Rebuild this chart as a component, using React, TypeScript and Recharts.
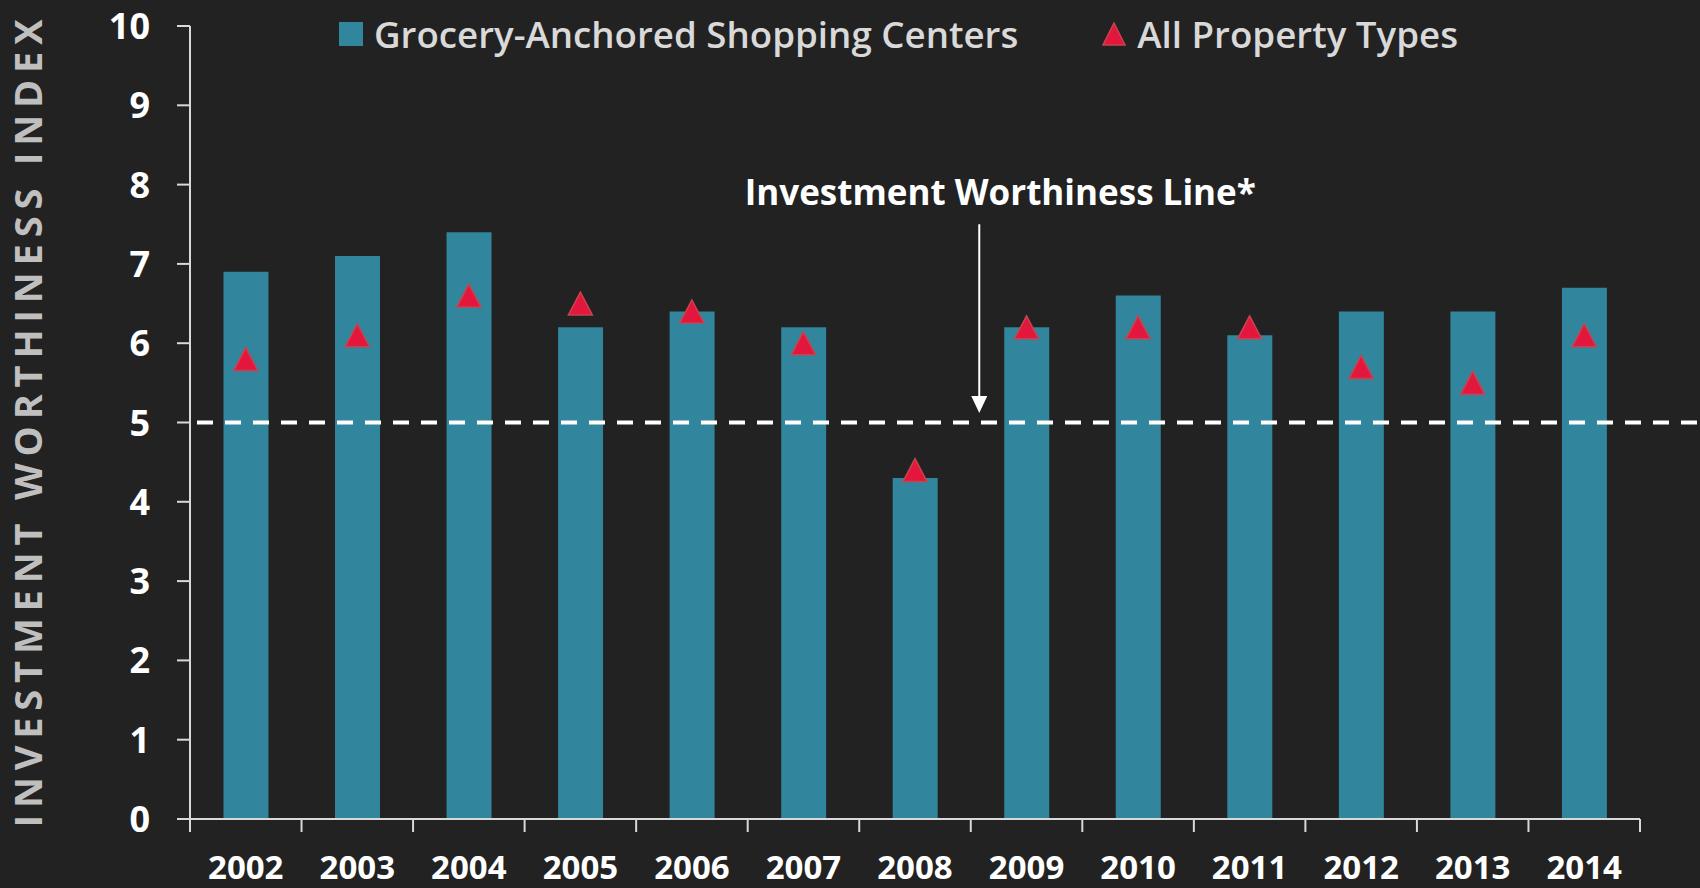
import React from 'react';
import {
  ComposedChart,
  Bar,
  Scatter,
  XAxis,
  YAxis,
  ReferenceLine,
  Legend,
} from 'recharts';

const years = ['2002', '2003', '2004', '2005', '2006', '2007', '2008', '2009', '2010', '2011', '2012', '2013', '2014'];
const groceryAnchored = [6.9, 7.1, 7.4, 6.2, 6.4, 6.2, 4.3, 6.2, 6.6, 6.1, 6.4, 6.4, 6.7];
const allPropertyTypes = [5.8, 6.1, 6.6, 6.5, 6.4, 6.0, 4.4, 6.2, 6.2, 6.2, 5.7, 5.5, 6.1];
const yTicks = [0, 1, 2, 3, 4, 5, 6, 7, 8, 9, 10];
const worthinessLevel = 5;
const seriesNames = ['Grocery-Anchored Shopping Centers', 'All Property Types'];
const annotationText = 'Investment Worthiness Line*';
const yAxisTitle = 'INVESTMENT WORTHINESS INDEX';

const data = years.map((year, i) => ({
  year,
  grocery: groceryAnchored[i],
  all: allPropertyTypes[i],
}));

const CHART_W = 1700;
const CHART_H = 888;
const MARGIN = { top: 26, right: 60, left: 130, bottom: 9 };
const Y_AXIS_W = 60;
const X_AXIS_H = 60;
const PLOT_LEFT = MARGIN.left + Y_AXIS_W;
const PLOT_W = CHART_W - PLOT_LEFT - MARGIN.right;
const BAND = PLOT_W / years.length;
const AXIS_Y = CHART_H - MARGIN.bottom - X_AXIS_H;

const BG = '#222222';
const BAR_COLOR = '#31859C';
const TRI_COLOR = '#E3173D';
const TRI_STROKE = '#C8434F';
const AXIS_COLOR = '#D9D9D9';
const FONT = '"Open Sans", "Noto Sans", sans-serif';

const XTick = (props: any) => {
  const { x, payload, index } = props;
  const left = x - BAND / 2;
  const right = x + BAND / 2;
  return (
    <g>
      <line x1={left} x2={left} y1={AXIS_Y} y2={AXIS_Y + 13} stroke={AXIS_COLOR} strokeWidth={2} />
      {index === years.length - 1 && (
        <line x1={right} x2={right} y1={AXIS_Y} y2={AXIS_Y + 13} stroke={AXIS_COLOR} strokeWidth={2} />
      )}
      <text
        x={x}
        y={AXIS_Y + 60}
        textAnchor="middle"
        fill="#FFFFFF"
        fontSize={33}
        fontWeight={700}
        fontFamily={FONT}
      >
        {payload.value}
      </text>
    </g>
  );
};

const YTick = (props: any) => {
  const { x, y, payload } = props;
  return (
    <text
      x={x}
      y={y}
      dy={13}
      textAnchor="end"
      fill="#FFFFFF"
      fontSize={36}
      fontWeight={700}
      fontFamily={FONT}
    >
      {payload.value}
    </text>
  );
};

const Triangle = (props: any) => {
  const { cx, cy } = props;
  if (cx == null || cy == null) return null;
  const w = 24;
  const h = 23;
  return (
    <polygon
      points={`${cx},${cy - h / 2} ${cx + w / 2},${cy + h / 2} ${cx - w / 2},${cy + h / 2}`}
      fill={TRI_COLOR}
      stroke={TRI_STROKE}
      strokeWidth={1.5}
    />
  );
};

const DashedLevel = (props: any) => {
  const { x1, y1 } = props;
  return (
    <line
      x1={x1}
      x2={CHART_W}
      y1={y1}
      y2={y1}
      stroke="#FFFFFF"
      strokeWidth={4}
      strokeDasharray="16 12"
      strokeDashoffset={21}
    />
  );
};

const ArrowAnnotation = (props: any) => {
  const { x1, y1, y2 } = props;
  const ax = x1 + BAND / 2 + 8.5;
  const head = 17;
  return (
    <g>
      <text
        x={ax + 21}
        y={y1 - 19}
        textAnchor="middle"
        fill="#FFFFFF"
        fontSize={35}
        fontWeight={700}
        fontFamily={FONT}
      >
        {annotationText}
      </text>
      <line x1={ax} x2={ax} y1={y1} y2={y2 - head + 2} stroke="#FFFFFF" strokeWidth={2} />
      <polygon points={`${ax - 8},${y2 - head} ${ax + 8},${y2 - head} ${ax},${y2}`} fill="#FFFFFF" />
    </g>
  );
};

const LegendContent = () => (
  <div
    style={{
      display: 'flex',
      alignItems: 'center',
      fontFamily: FONT,
      fontSize: 36.7,
      fontWeight: 600,
      color: '#D9D9D9',
      whiteSpace: 'nowrap',
      lineHeight: '48px',
    }}
  >
    <span style={{ display: 'inline-block', width: 24, height: 24, background: BAR_COLOR, marginRight: 11 }} />
    <span>{seriesNames[0]}</span>
    <svg width={24} height={24} style={{ marginLeft: 84, marginRight: 11 }}>
      <polygon points="12,1 23,23 1,23" fill={TRI_COLOR} stroke={TRI_STROKE} strokeWidth={1.5} />
    </svg>
    <span>{seriesNames[1]}</span>
  </div>
);

export default function App() {
  return (
    <div
      style={{
        position: 'absolute',
        left: 0,
        top: 0,
        width: CHART_W,
        height: CHART_H,
        background: BG,
        overflow: 'hidden',
      }}
    >
      <ComposedChart
        width={CHART_W}
        height={CHART_H}
        data={data}
        margin={MARGIN}
        barCategoryGap="30%"
      >
        <XAxis
          dataKey="year"
          height={X_AXIS_H}
          axisLine={{ stroke: AXIS_COLOR, strokeWidth: 2 }}
          tickLine={false}
          tick={<XTick />}
          interval={0}
        />
        <YAxis
          width={Y_AXIS_W}
          domain={[0, 10]}
          ticks={yTicks}
          interval={0}
          axisLine={{ stroke: AXIS_COLOR, strokeWidth: 2 }}
          tickLine={{ stroke: AXIS_COLOR, strokeWidth: 2 }}
          tickSize={13}
          tickMargin={27}
          tick={<YTick />}
          label={{
            content: (p: any) => {
              const vb = p.viewBox || { x: MARGIN.left, y: MARGIN.top, height: AXIS_Y - MARGIN.top };
              const cx = 27;
              const cy = vb.y + vb.height / 2 + 1;
              return (
                <text
                  x={cx}
                  y={cy}
                  transform={`rotate(-90, ${cx}, ${cy})`}
                  textAnchor="middle"
                  dominantBaseline="central"
                  fill="#BFBFBF"
                  fontSize={38}
                  fontWeight={700}
                  fontFamily={FONT}
                  textLength={808}
                  lengthAdjust="spacing"
                >
                  {yAxisTitle}
                </text>
              );
            },
          }}
        />
        <Legend
          layout="horizontal"
          verticalAlign="middle"
          align="center"
          wrapperStyle={{ position: 'absolute', top: 10, left: 339, width: 'auto' }}
          content={<LegendContent />}
        />
        <Bar dataKey="grocery" name={seriesNames[0]} fill={BAR_COLOR} isAnimationActive={false} />
        <Scatter dataKey="all" name={seriesNames[1]} shape={<Triangle />} isAnimationActive={false} />
        <ReferenceLine y={worthinessLevel} shape={<DashedLevel />} ifOverflow="visible" />
        <ReferenceLine
          segment={[
            { x: '2008', y: 7.5 },
            { x: '2008', y: 5.12 },
          ]}
          shape={<ArrowAnnotation />}
          ifOverflow="visible"
        />
      </ComposedChart>
    </div>
  );
}
